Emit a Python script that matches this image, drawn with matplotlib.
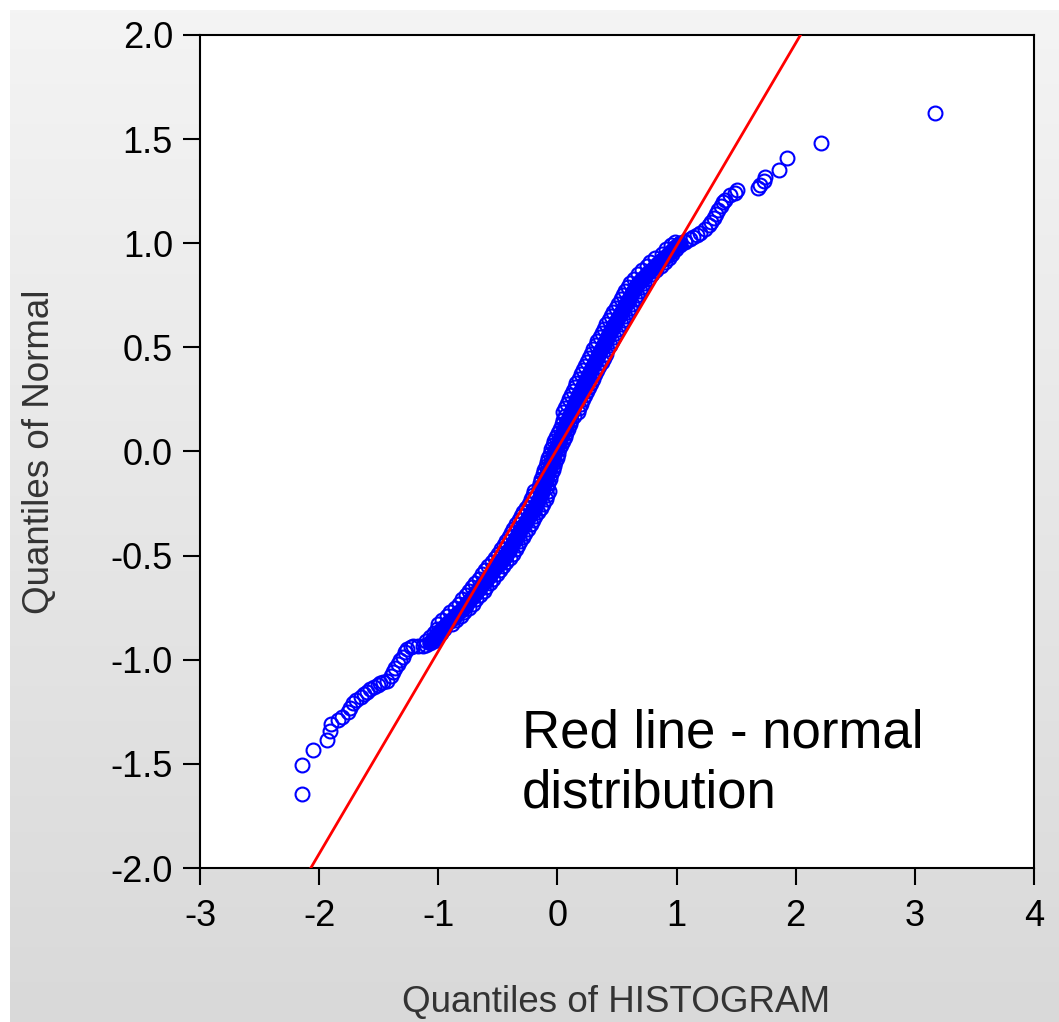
import numpy as np
import matplotlib
matplotlib.use("Agg")
import matplotlib.pyplot as plt

plt.rcParams['font.family'] = ['Liberation Sans', 'DejaVu Sans']
plt.rcParams['axes.unicode_minus'] = False

# sample quantiles (x) against normal quantiles (y)
tail_low_x = [-2.14, -2.14, -2.05, -1.93, -1.91, -1.90, -1.84, -1.81, -1.76, -1.74,
              -1.72, -1.69, -1.65, -1.62, -1.60, -1.57, -1.54, -1.51, -1.49, -1.46,
              -1.43, -1.40, -1.38, -1.36, -1.34, -1.32, -1.30, -1.28, -1.26, -1.23,
              -1.21, -1.17, -1.13, -1.10]
tail_low_y = [-1.645, -1.505, -1.433, -1.385, -1.34, -1.31, -1.29, -1.275, -1.25, -1.23,
              -1.21, -1.195, -1.18, -1.165, -1.155, -1.14, -1.13, -1.12, -1.11, -1.105,
              -1.10, -1.08, -1.06, -1.04, -1.02, -1.00, -0.985, -0.965, -0.95, -0.94,
              -0.935, -0.935, -0.935, -0.93]

# dense middle band: centre row and two side rows
body_y = [-0.92, -0.90, -0.88, -0.86, -0.84, -0.82, -0.80, -0.78, -0.76, -0.74,
          -0.72, -0.70, -0.68, -0.66, -0.64, -0.62, -0.60, -0.58, -0.56, -0.54,
          -0.52, -0.50, -0.48, -0.46, -0.44, -0.42, -0.40, -0.38, -0.36, -0.34,
          -0.32, -0.30, -0.28, -0.26, -0.24, -0.22, -0.20, -0.18, -0.16, -0.14,
          -0.12, -0.10, -0.08, -0.06, -0.04, -0.02, 0.00, 0.02, 0.04, 0.06,
          0.08, 0.10, 0.12, 0.14, 0.16, 0.18, 0.20, 0.22, 0.24, 0.26,
          0.28, 0.30, 0.32, 0.34, 0.36, 0.38, 0.40, 0.42, 0.44, 0.46,
          0.48, 0.50, 0.52, 0.54, 0.56, 0.58, 0.60, 0.62, 0.64, 0.66,
          0.68, 0.70, 0.72, 0.74, 0.76, 0.78, 0.80, 0.82, 0.84, 0.86,
          0.88, 0.90, 0.92, 0.94, 0.96, 0.98, 1.00]
side_y = [-0.91, -0.89, -0.87, -0.85, -0.83, -0.81, -0.79, -0.77, -0.75, -0.73,
          -0.71, -0.69, -0.67, -0.65, -0.63, -0.61, -0.59, -0.57, -0.55, -0.53,
          -0.51, -0.49, -0.47, -0.45, -0.43, -0.41, -0.39, -0.37, -0.35, -0.33,
          -0.31, -0.29, -0.27, -0.25, -0.23, -0.21, -0.19, -0.17, -0.15, -0.13,
          -0.11, -0.09, -0.07, -0.05, -0.03, -0.01, 0.01, 0.03, 0.05, 0.07,
          0.09, 0.11, 0.13, 0.15, 0.17, 0.19, 0.21, 0.23, 0.25, 0.27,
          0.29, 0.31, 0.33, 0.35, 0.37, 0.39, 0.41, 0.43, 0.45, 0.47,
          0.49, 0.51, 0.53, 0.55, 0.57, 0.59, 0.61, 0.63, 0.65, 0.67,
          0.69, 0.71, 0.73, 0.75, 0.77, 0.79, 0.81, 0.83, 0.85, 0.87,
          0.89, 0.91, 0.93, 0.95, 0.97, 0.99, 1.005]
body_mid_x = [-1.07, -1.04, -1.01, -0.98, -0.945, -0.91, -0.87, -0.84, -0.80, -0.77,
              -0.74, -0.71, -0.68, -0.66, -0.63, -0.60, -0.57, -0.545, -0.52, -0.49,
              -0.46, -0.435, -0.41, -0.39, -0.37, -0.35, -0.33, -0.31, -0.285, -0.265,
              -0.245, -0.225, -0.20, -0.18, -0.16, -0.145, -0.133, -0.12, -0.11, -0.10,
              -0.09, -0.075, -0.065, -0.055, -0.04, -0.03, -0.02, -0.005, 0.01, 0.025,
              0.04, 0.055, 0.07, 0.08, 0.10, 0.11, 0.125, 0.14, 0.155, 0.17,
              0.187, 0.205, 0.22, 0.24, 0.257, 0.275, 0.29, 0.31, 0.327, 0.344,
              0.36, 0.38, 0.396, 0.414, 0.43, 0.45, 0.47, 0.49, 0.51, 0.53,
              0.55, 0.57, 0.59, 0.61, 0.63, 0.65, 0.67, 0.70, 0.735, 0.77,
              0.81, 0.84, 0.88, 0.92, 0.955, 0.99, 1.03]
body_left_x = [-1.10, -1.07, -1.04, -1.01, -1.005, -0.97, -0.93, -0.90, -0.86, -0.83,
               -0.80, -0.77, -0.74, -0.72, -0.69, -0.66, -0.63, -0.605, -0.58, -0.55,
               -0.52, -0.495, -0.47, -0.45, -0.43, -0.41, -0.39, -0.37, -0.345, -0.325,
               -0.305, -0.285, -0.26, -0.24, -0.22, -0.205, -0.193, -0.155, -0.145, -0.135,
               -0.125, -0.11, -0.10, -0.09, -0.075, -0.065, -0.055, -0.04, -0.025, -0.01,
               0.005, 0.02, 0.035, 0.045, 0.065, 0.05, 0.065, 0.08, 0.095, 0.11,
               0.127, 0.145, 0.16, 0.18, 0.197, 0.215, 0.23, 0.25, 0.267, 0.284,
               0.30, 0.32, 0.336, 0.354, 0.37, 0.39, 0.41, 0.43, 0.45, 0.47,
               0.49, 0.51, 0.53, 0.55, 0.57, 0.59, 0.61, 0.64, 0.675, 0.71,
               0.75, 0.78, 0.82, 0.88, 0.915, 0.95, 0.99]
body_right_x = [-1.04, -1.01, -0.98, -0.95, -0.885, -0.85, -0.81, -0.78, -0.74, -0.71,
                -0.68, -0.65, -0.62, -0.60, -0.57, -0.54, -0.51, -0.485, -0.46, -0.43,
                -0.40, -0.375, -0.35, -0.33, -0.31, -0.29, -0.27, -0.25, -0.225, -0.205,
                -0.185, -0.165, -0.14, -0.12, -0.10, -0.085, -0.073, -0.085, -0.075, -0.065,
                -0.055, -0.04, -0.03, -0.02, -0.005, 0.005, 0.015, 0.03, 0.045, 0.06,
                0.075, 0.09, 0.105, 0.115, 0.135, 0.17, 0.185, 0.20, 0.215, 0.23,
                0.247, 0.265, 0.28, 0.30, 0.317, 0.335, 0.35, 0.37, 0.387, 0.404,
                0.42, 0.44, 0.456, 0.474, 0.49, 0.51, 0.53, 0.55, 0.57, 0.59,
                0.61, 0.63, 0.65, 0.67, 0.69, 0.71, 0.73, 0.76, 0.795, 0.83,
                0.87, 0.90, 0.94, 0.96, 0.995, 1.03, 1.07]

tail_high_x = [1.07, 1.11, 1.14, 1.17, 1.20, 1.24, 1.27, 1.29, 1.31, 1.33,
               1.345, 1.37, 1.39, 1.41, 1.45, 1.49, 1.51, 1.68, 1.70, 1.73,
               1.74, 1.86, 1.93, 2.21, 3.17]
tail_high_y = [1.01, 1.02, 1.03, 1.04, 1.05, 1.07, 1.09, 1.10, 1.12, 1.14,
               1.16, 1.18, 1.20, 1.21, 1.23, 1.24, 1.255, 1.265, 1.28, 1.30,
               1.32, 1.35, 1.41, 1.48, 1.625]

# reference (normal) line end points
ref_x = [-2.07, 2.04]
ref_y = [-2.0, 2.0]

x_ticks = [-3, -2, -1, 0, 1, 2, 3, 4]
y_ticks = [-2.0, -1.5, -1.0, -0.5, 0.0, 0.5, 1.0, 1.5, 2.0]

W, H = 1059, 1022
fig = plt.figure(figsize=(W / 100, H / 100), dpi=100)
fig.patch.set_facecolor('white')

# grey gradient panel behind everything
bg = fig.add_axes([10 / W, 0, 1 - 10 / W, 1 - 10 / H])
grad = np.linspace(244, 217, 256).reshape(-1, 1) / 255.0
bg.imshow(np.dstack([grad, grad, grad]), aspect='auto', extent=[0, 1, 0, 1])
bg.axis('off')

ax = fig.add_axes([200 / W, 1 - 868 / H, (1034 - 200) / W, (868 - 35) / H])
ax.set_facecolor('white')

# overlapping circles in the middle read as a solid band
ax.plot(body_mid_x, body_y, color='#0000ff', linewidth=11,
        solid_capstyle='round', solid_joinstyle='round', zorder=1.5)

marker_style = dict(linestyle='none', marker='o', markersize=10.0,
                    markerfacecolor='none', markeredgecolor='#0000ff',
                    markeredgewidth=1.5, zorder=2)
ax.plot(tail_low_x, tail_low_y, **marker_style)
ax.plot(body_left_x, side_y, **marker_style)
ax.plot(body_mid_x, body_y, **marker_style)
ax.plot(body_right_x, side_y, **marker_style)
ax.plot(tail_high_x, tail_high_y, **marker_style)
ax.plot(ref_x, ref_y, color='#ff0000', linewidth=2.0, zorder=3)

ax.set_xlim(-3, 4)
ax.set_ylim(-2, 2)
ax.set_xticks(x_ticks)
ax.set_xticklabels([str(t) for t in x_ticks])
ax.set_yticks(y_ticks)
ax.set_yticklabels(['%.1f' % t for t in y_ticks])

for s in ax.spines.values():
    s.set_linewidth(1.5)
    s.set_color('black')
ax.tick_params(axis='both', direction='out', length=12.5, width=1.5,
               labelsize=26, colors='black')
ax.tick_params(axis='y', pad=7)
ax.tick_params(axis='x', pad=10)

fig.text(616 / W, 1 - 1002 / H, 'Quantiles of HISTOGRAM', fontsize=26.5,
         color='#333333', ha='center', va='center')
fig.text(40 / W, 1 - 452 / H, 'Quantiles of Normal', fontsize=26.5,
         color='#333333', ha='center', va='center', rotation=90)

fig.text(522 / W, 1 - 748 / H, 'Red line - normal', fontsize=38,
         color='black', ha='left', va='baseline')
fig.text(522 / W, 1 - 808 / H, 'distribution', fontsize=38,
         color='black', ha='left', va='baseline')

fig.savefig('out.png', dpi=100)
